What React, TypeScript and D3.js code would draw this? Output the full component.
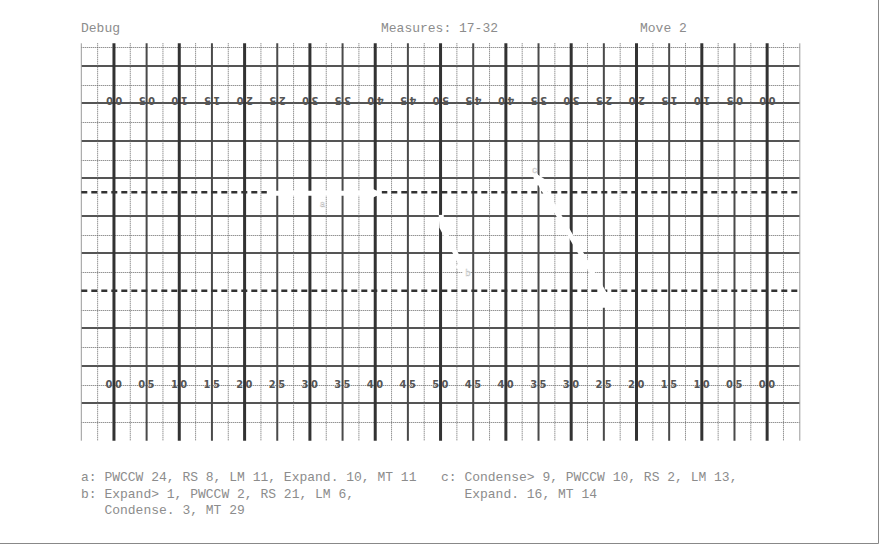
import { useEffect, useRef } from "react";
import * as d3 from "d3";

// header texts
const headers = [
  { text: "Debug", col: 0 },
  { text: "Measures: 17-32", col: 1 },
  { text: "Move 2", col: 2 },
];

// yard numbers, left goal line to right goal line
const yardNumbers = [
  "00", "05", "10", "15", "20", "25", "30", "35", "40", "45", "50",
  "45", "40", "35", "30", "25", "20", "15", "10", "05", "00",
];

// yards from the left goal line, rows from the top grid line
const pathA = [
  [23.4, 7.8],
  [41.0, 7.8],
];
const pathB = [
  [50.1, 8.95],
  [50.2, 9.6],
  [54.1, 12.2],
];
const pathC = [
  [75.0, 13.9],
  [75.0, 13.1],
  [64.2, 6.65],
];
const pathLabels = [
  { name: "a", x: 31.5, row: 8.55 },
  { name: "b", x: 53.8, row: 12.2 },
  { name: "c", x: 64.0, row: 6.7 },
];

const legendLeft = [
  "a: PWCCW 24, RS 8, LM 11, Expand. 10, MT 11",
  "b: Expand> 1, PWCCW 2, RS 21, LM 6,",
  "   Condense. 3, MT 29",
];
const legendRight = [
  "c: Condense> 9, PWCCW 10, RS 2, LM 13,",
  "   Expand. 16, MT 14",
];

const W = 880;
const H = 545;

export default function App() {
  const ref = useRef<SVGSVGElement>(null);

  useEffect(() => {
    const svg = d3.select(ref.current);
    svg.selectAll("*").remove();

    const x = d3.scaleLinear().domain([-5, 105]).range([81.3, 799.8]);
    const y = d3.scaleLinear().domain([0, 20]).range([47, 422]);
    const top = 43.3;
    const bottom = 440.7;

    const textFont = "'Liberation Mono', 'DejaVu Sans Mono', monospace";
    const textColor = "#8c8c8c";

    // header
    const headX = [81, 381, 640];
    svg
      .selectAll("text.head")
      .data(headers)
      .enter()
      .append("text")
      .attr("class", "head")
      .attr("x", (d) => headX[d.col])
      .attr("y", 32)
      .attr("font-family", textFont)
      .attr("font-size", 13)
      .attr("fill", textColor)
      .attr("xml:space", "preserve")
      .text((d) => d.text);

    const grid = svg.append("g");

    // horizontal lines
    const rows = d3.range(0, 21).filter((r) => r !== 8 && r !== 13);
    grid
      .selectAll("line.h")
      .data(rows)
      .enter()
      .append("line")
      .attr("x1", x(-5))
      .attr("x2", x(105))
      .attr("y1", (r) => Math.round(y(r)) + (r % 2 ? 0 : 0.5))
      .attr("y2", (r) => Math.round(y(r)) + (r % 2 ? 0 : 0.5))
      .attr("stroke", (r) => (r % 2 ? "#555" : "#666"))
      .attr("stroke-width", (r) => (r % 2 ? 2 : 1))
      .attr("stroke-dasharray", (r) => (r % 2 ? null : "1,1"));

    // vertical lines every 2.5 yards
    const yards = d3.range(0, 45).map((k) => -5 + 2.5 * k);
    grid
      .selectAll("line.v")
      .data(yards)
      .enter()
      .append("line")
      .attr("x1", (d) => x(d))
      .attr("x2", (d) => x(d))
      .attr("y1", top)
      .attr("y2", bottom)
      .attr("stroke", (d) =>
        d === -5 || d === 105 ? "#999" : d % 10 === 0 ? "#333" : d % 5 === 0 ? "#4a4a4a" : "#666"
      )
      .attr("stroke-width", (d) =>
        d === -5 || d === 105 ? 1 : d % 10 === 0 ? 3 : d % 5 === 0 ? 2 : 1
      )
      .attr("stroke-dasharray", (d) =>
        d === -5 || d === 105 || d % 5 === 0 ? null : "1,1"
      );

    // hash lines
    grid
      .selectAll("line.hash")
      .data([7.75, 13])
      .enter()
      .append("line")
      .attr("x1", x(-5))
      .attr("x2", x(105))
      .attr("y1", (r) => y(r))
      .attr("y2", (r) => y(r))
      .attr("stroke", "#333")
      .attr("stroke-width", 2.5)
      .attr("stroke-dasharray", "6,4");

    // yard numbers
    const numFont = "'DejaVu Sans Condensed', 'Liberation Sans Narrow', sans-serif";
    const nums = grid
      .selectAll("g.num")
      .data(yardNumbers)
      .enter()
      .append("g")
      .attr("font-family", numFont)
      .attr("font-size", 11)
      .attr("font-weight", "bold")
      .attr("fill", "#555");
    const drawNum = (sel: any, dy: number, flip: boolean) => {
      sel.each(function (this: SVGGElement, d: string, i: number) {
        const xx = x(i * 5);
        const g = d3
          .select(this)
          .append("g")
          .attr("transform", flip ? `rotate(180 ${xx} ${dy - 4})` : null);
        g.append("text").attr("x", xx - 1.5).attr("y", dy).attr("text-anchor", "end").text(d[0]);
        g.append("text").attr("x", xx + 1).attr("y", dy).attr("text-anchor", "start").text(d[1]);
      });
    };
    drawNum(nums, 388, false);
    drawNum(nums, 104.5, true);

    // movement paths
    const line = d3
      .line<number[]>()
      .x((d) => x(d[0]))
      .y((d) => y(d[1]));
    const paths = [pathA, pathB, pathC];
    const marks = svg.append("g");
    marks
      .selectAll("path.move")
      .data(paths)
      .enter()
      .append("path")
      .attr("d", (d) => line(d))
      .attr("fill", "none")
      .attr("stroke", "#fff")
      .attr("stroke-width", 5);
    // arrow heads at path ends
    marks
      .selectAll("path.arrow")
      .data(paths)
      .enter()
      .append("path")
      .attr("fill", "#fff")
      .attr("d", (d) => {
        const p = d[d.length - 1];
        const q = d[d.length - 2];
        const x1 = x(p[0]);
        const y1 = y(p[1]);
        const a = Math.atan2(y1 - y(q[1]), x1 - x(q[0]));
        const len = 14;
        const half = 7;
        const bx = x1 - len * Math.cos(a);
        const by = y1 - len * Math.sin(a);
        return `M${x1},${y1}L${bx - half * Math.sin(a)},${by + half * Math.cos(a)}L${bx + half * Math.sin(a)},${by - half * Math.cos(a)}Z`;
      });
    marks
      .selectAll("text.lab")
      .data(pathLabels)
      .enter()
      .append("text")
      .attr("x", (d) => x(d.x))
      .attr("y", (d) => y(d.row))
      .attr("font-family", textFont)
      .attr("font-size", 9)
      .attr("fill", "#fff")
      .attr("stroke", "#bbb")
      .attr("stroke-width", 0.4)
      .text((d) => d.name);

    // legend
    const legend = svg.append("g").attr("font-family", textFont).attr("font-size", 13).attr("fill", textColor);
    legend
      .selectAll("text.l")
      .data(legendLeft)
      .enter()
      .append("text")
      .attr("x", 81)
      .attr("y", (_, i) => 481 + i * 16.5)
      .attr("xml:space", "preserve")
      .text((d) => d);
    legend
      .selectAll("text.r")
      .data(legendRight)
      .enter()
      .append("text")
      .attr("x", 441)
      .attr("y", (_, i) => 481 + i * 16.5)
      .attr("xml:space", "preserve")
      .text((d) => d);

    // frame
    svg
      .append("path")
      .attr("d", `M${W - 1.5},0V${H - 1.5}H0`)
      .attr("fill", "none")
      .attr("stroke", "#888")
      .attr("stroke-width", 1);
  }, []);

  return (
    <svg
      ref={ref}
      width={W}
      height={H}
      style={{ position: "absolute", left: 0, top: 0, background: "#fff" }}
    />
  );
}
